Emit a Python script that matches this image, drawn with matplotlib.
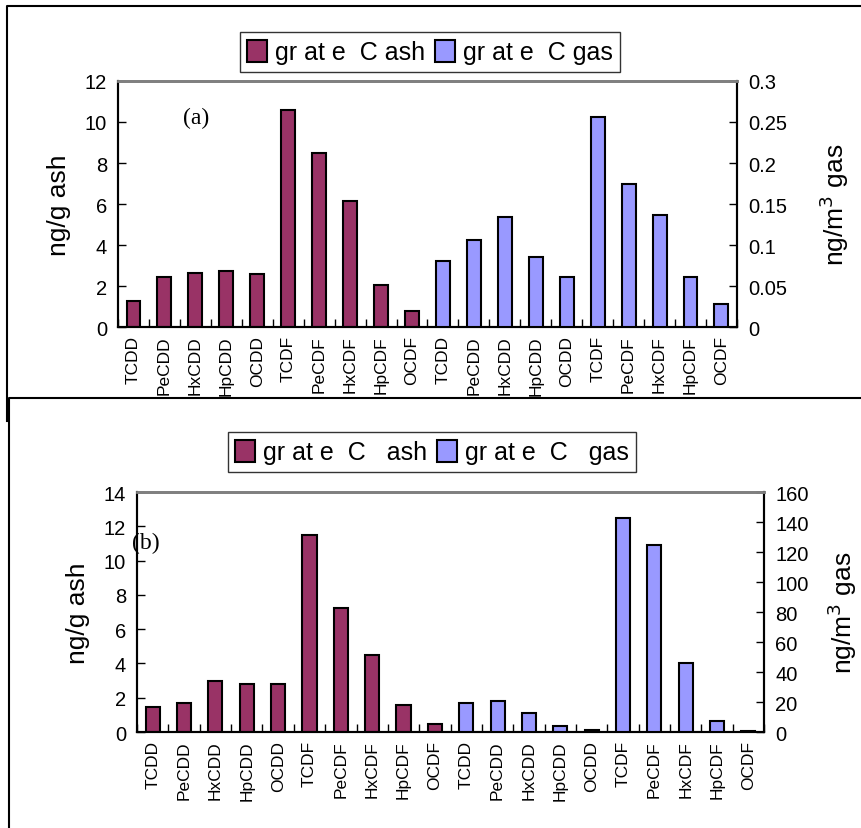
import numpy as np
import matplotlib
matplotlib.use("Agg")
import matplotlib.pyplot as plt
from matplotlib.patches import Patch
from matplotlib.lines import Line2D

# categories: 10 ash congeners then 10 gas congeners
congeners = ["TCDD", "PeCDD", "HxCDD", "HpCDD", "OCDD",
             "TCDF", "PeCDF", "HxCDF", "HpCDF", "OCDF"]
labels = congeners + congeners

# panel (a)
ash_a = [1.25, 2.45, 2.65, 2.75, 2.6, 10.6, 8.5, 6.15, 2.05, 0.8]
gas_a = [0.080, 0.106, 0.134, 0.086, 0.061, 0.256, 0.174, 0.136, 0.061, 0.0275]

# panel (b)
ash_b = [1.46, 1.71, 2.96, 2.78, 2.8, 11.5, 7.25, 4.47, 1.59, 0.45]
gas_b = [19.3, 20.9, 12.9, 4.2, 1.3, 142.5, 125.0, 46.2, 7.6, 1.0]

ash_col = "#993366"
gas_col = "#9999FF"
narrow = ["Liberation Sans Narrow", "Liberation Sans", "DejaVu Sans"]
arial = ["Liberation Sans", "DejaVu Sans"]
serif = ["Liberation Serif", "DejaVu Serif"]

fig = plt.figure(figsize=(8.62, 8.29), dpi=100)


def panel(rect, ash, gas, ymax_l, step_l, ymax_r, step_r, rfmt, tag, tagpos,
          leg_names, leg_box, rpad):
    ax = fig.add_axes(rect)
    ax2 = ax.twinx()
    n = len(ash)
    xa = np.arange(n)
    xg = np.arange(n, 2 * n)
    ax.bar(xa, ash, width=0.45, color=ash_col, edgecolor="black", linewidth=1.5, zorder=3)
    ax2.bar(xg, gas, width=0.45, color=gas_col, edgecolor="black", linewidth=1.5, zorder=3)
    ax.set_xlim(-0.5, 2 * n - 0.5)
    ax.set_ylim(0, ymax_l)
    ax2.set_ylim(0, ymax_r)
    lt = np.arange(0, ymax_l + step_l / 2, step_l)
    ax.set_yticks(lt)
    ax.set_yticklabels(["%g" % v for v in lt], family=narrow, fontsize=14.5)
    rt = np.arange(0, ymax_r + step_r / 2, step_r)
    ax2.set_yticks(rt)
    ax2.set_yticklabels([rfmt(v) for v in rt], family=narrow, fontsize=14.5)
    ax.tick_params(axis="y", direction="in", length=6, width=1, pad=8)
    ax2.tick_params(axis="y", direction="in", length=6, width=1, pad=8)
    ax.set_xticks(np.arange(2 * n))
    ax.set_xticklabels(labels, rotation=90, family=arial, fontsize=12.5)
    ax.tick_params(axis="x", length=0, pad=6)
    ax.set_xticks(np.arange(-0.5, 2 * n), minor=True)
    ax.tick_params(axis="x", which="minor", direction="in", length=6, width=1)
    for a in (ax, ax2):
        a.spines["top"].set_color("#808080")
        a.spines["top"].set_linewidth(2)
        for s in ("left", "right", "bottom"):
            a.spines[s].set_linewidth(1.5)
    ax.set_ylabel("ng/g ash", family=arial, fontsize=19, labelpad=10)
    ax2.set_ylabel("ng/m$^3$ gas", family=arial, fontsize=19, labelpad=rpad)
    ax.text(tagpos[0], tagpos[1], tag, transform=ax.transAxes, family=serif, fontsize=17)
    handles = [Patch(facecolor=ash_col, edgecolor="black", linewidth=1.5),
               Patch(facecolor=gas_col, edgecolor="black", linewidth=1.5)]
    leg = fig.legend(handles, leg_names, loc="center", bbox_to_anchor=leg_box,
                     ncol=2, frameon=True, fancybox=False, prop={"family": narrow, "size": 18},
                     handlelength=0.8, handleheight=1.0, handletextpad=0.3,
                     columnspacing=0.4, borderpad=0.3, borderaxespad=0)
    leg.get_frame().set_edgecolor("black")
    leg.get_frame().set_linewidth(1)
    return ax


panel([0.1369, 0.6043, 0.718, 0.2968], ash_a, gas_a, 12, 2, 0.3, 0.05,
      lambda v: "0" if v == 0 else ("%.2f" % v).rstrip("0"),
      "(a)", (0.105, 0.83),
      ["gr at e  C ash", "gr at e  C gas"],
      (430 / 862, 1 - 53 / 829), 22)

panel([0.159, 0.1158, 0.7274, 0.2895], ash_b, gas_b, 14, 2, 160, 20,
      lambda v: "%d" % v,
      "(b)", (-0.008, 0.765),
      ["gr at e  C   ash", "gr at e  C   gas"],
      (432 / 862, 1 - 453 / 829), 12)

# outer frames around the two panels
W, H = 862.0, 829.0
def fline(xs, ys):
    fig.add_artist(Line2D([x / W for x in xs], [1 - y / H for y in ys],
                          color="black", linewidth=1.5))

fline([7, 7, 870], [422, 7, 7])
fline([9.5, 9.5, 870], [835, 399, 399])

fig.savefig("out.png", dpi=100, facecolor="white")
